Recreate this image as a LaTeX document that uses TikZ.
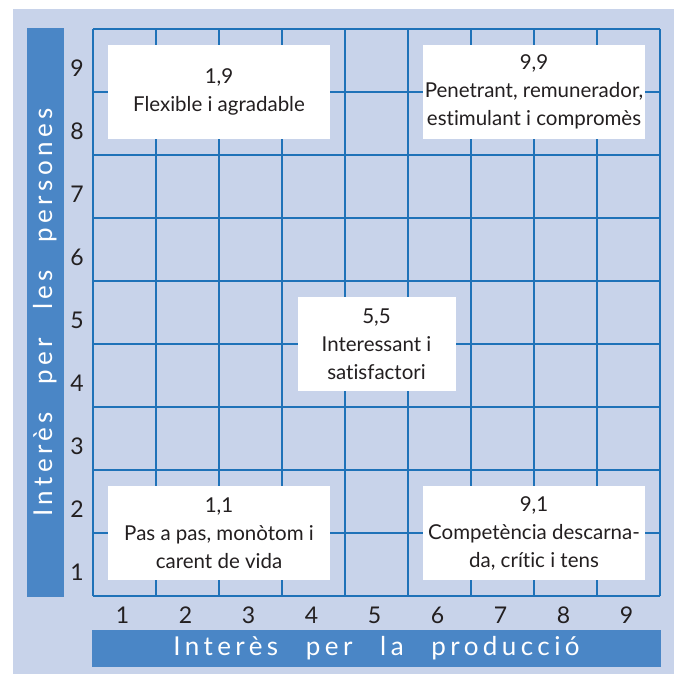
\documentclass[tikz,border=0pt]{standalone}
\usepackage{fontspec}
\setmainfont[Ligatures={NoCommon}]{Lato}
\newfontfamily\axisfont[LetterSpace=17,WordSpace=2.5]{Lato}
\definecolor{paleBlue}{HTML}{C8D3EA}
\definecolor{barBlue}{HTML}{4A86C6}
\definecolor{gridBlue}{HTML}{1F72B8}
\definecolor{inkGrey}{HTML}{231F20}

\begin{document}
\begin{tikzpicture}
[x=63pt,y=63pt,
  boxDecorate/.style={shape=rectangle,fill=white,inner sep=0pt,align=center,
    minimum width=222pt,minimum height=94pt,text=inkGrey,
    font=\fontsize{20.5}{28}\selectfont},
  lineDecorate/.style={draw=gridBlue,line width=1.2pt},
  tickDecorate/.style={text=inkGrey,inner sep=0pt,font=\fontsize{23}{26}\selectfont},
  barDecorate/.style={shape=rectangle,fill=barBlue,inner sep=0pt,text=white,
    minimum height=37pt,
    font=\axisfont\fontsize{26}{30}\selectfont}]
\useasboundingbox (-1.476,-1.238) rectangle (9.317,9.460);
\fill[paleBlue] (-1.270,-1.238) rectangle (9.222,9.317);
%% grid lines
\foreach \k in {0,...,9} {
  \draw[lineDecorate] (\k,0) -- (\k,9);
  \draw[lineDecorate] (0,\k) -- (9,\k);
}
%% axis bars
\node (peopleBar) at (-0.754,4.5) [barDecorate,rotate=90,minimum width=568pt] {Interès per les persones};
\node (productionBar) at (4.5,-0.834) [barDecorate,minimum width=568pt] {Interès per la producció};
%% tick numbers
\foreach \k in {1,...,9} {
  \node (xTick\k) at (\k-0.53,-0.302) [tickDecorate] {\k};
  \node (yTick\k) at (-0.254,\k-0.627) [tickDecorate] {\k};
}
%% styles of leadership
\node (lowHigh) at (2,8) [boxDecorate] {1,9\\Flexible i agradable};
\node (highHigh) at (7,8) [boxDecorate] {9,9\\Penetrant, remunerador,\\estimulant i compromès};
\node (midMid) at (4.5,4) [boxDecorate,minimum width=158pt] {5,5\\Interessant i\\satisfactori};
\node (lowLow) at (2,1) [boxDecorate] {1,1\\Pas a pas, monòtom i\\carent de vida};
\node (highLow) at (7,1) [boxDecorate] {9,1\\Competència descarna-\\da, crític i tens};
\end{tikzpicture}
\end{document}
